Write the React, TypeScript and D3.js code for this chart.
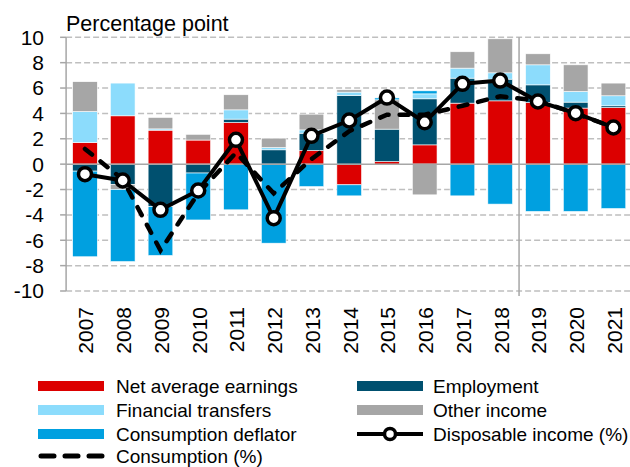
import React from "react";
import * as d3 from "d3";

const years = ["2007","2008","2009","2010","2011","2012","2013","2014","2015","2016","2017","2018","2019","2020","2021"];
const earnings = [1.70, 3.81, 2.68, 1.90, 3.28, 0, 1.07, -1.63, 0.20, 1.52, 4.81, 4.99, 4.86, 4.42, 4.46];
const employment = [-0.55, -1.60, -3.35, -0.70, 0.27, 1.13, 1.37, 5.41, 2.56, 3.63, 1.97, 1.71, 1.39, 0.47, 0.14];
const transfers = [2.45, 2.58, 0.10, 0, 0.73, 0.18, 0.26, 0.27, 0, 0.39, 0.79, 0.50, 1.58, 0.84, 0.79];
const other = [2.35, -0.40, 0.90, 0.45, 1.19, 0.74, 1.24, 0.18, 2.31, -2.42, 1.29, 2.68, 0.87, 2.10, 1.00];
const deflator = [-6.75, -5.68, -3.85, -3.70, -3.60, -6.23, -1.77, -0.87, 0.15, 0.24, -2.50, -3.15, -3.73, -3.73, -3.50];
const disposable = [-0.79, -1.29, -3.60, -2.08, 1.92, -4.26, 2.23, 3.44, 5.25, 3.30, 6.33, 6.59, 4.94, 4.02, 2.89];
const consumption = [1.2, -1.2, -6.8, -2.3, 0.9, -2.3, 0.4, 2.6, 3.9, 3.9, 4.6, 5.35, 5.0, 4.0, 2.9];
const yTicks = [10, 8, 6, 4, 2, 0, -2, -4, -6, -8, -10];

const seriesKeys = ["earnings", "employment", "transfers", "other", "deflator"];
const seriesLabels = ["Net average earnings", "Employment", "Financial transfers", "Other income", "Consumption deflator"];
const seriesColors = ["#dc0000", "#00506f", "#8cdcfc", "#a6a6a6", "#00a0e0"];
const seriesValues = [earnings, employment, transfers, other, deflator];

const FONT = "'Liberation Sans', Arial, sans-serif";

export default function App() {
  const W = 630, H = 467;
  const left = 66.1, right = 632.3, top = 37.3, bottom = 291;
  const x = d3.scaleBand<string>().domain(years).range([left, right]).paddingInner(0.346).paddingOuter(0.173);
  const y = d3.scaleLinear().domain([-10, 10]).range([bottom, top]);

  const table = years.map((yr, i) => {
    const row: any = { year: yr };
    seriesKeys.forEach((k, j) => (row[k] = seriesValues[j][i]));
    return row;
  });
  const stacked = d3.stack<any>().keys(seriesKeys).offset(d3.stackOffsetDiverging)(table);

  const cx = (yr: string) => (x(yr) as number) + x.bandwidth() / 2;
  const line = d3.line<number>().x((_, i) => cx(years[i])).y((d) => y(d));
  const sepX = left + x.step() * 12;

  const legendRows = [
    { type: "rect", label: seriesLabels[0], color: seriesColors[0], lx: 38, tx: 116, ly: 386 },
    { type: "rect", label: seriesLabels[1], color: seriesColors[1], lx: 357, tx: 433, ly: 386 },
    { type: "rect", label: seriesLabels[2], color: seriesColors[2], lx: 38, tx: 116, ly: 410 },
    { type: "rect", label: seriesLabels[3], color: seriesColors[3], lx: 357, tx: 433, ly: 410 },
    { type: "rect", label: seriesLabels[4], color: seriesColors[4], lx: 38, tx: 116, ly: 434 },
    { type: "solid", label: "Disposable income (%)", color: "#000", lx: 357, tx: 433, ly: 434 },
    { type: "dash", label: "Consumption (%)", color: "#000", lx: 38, tx: 116, ly: 456 },
  ];

  return (
    <svg width={W} height={H} style={{ position: "absolute", left: 0, top: 0, background: "#fff" }} fontFamily={FONT}>
      <text x={66} y={31} fontSize={21.5} fill="#000">Percentage point</text>
      {yTicks.filter((t) => t !== 0).map((t) => (
        <line key={"g" + t} x1={left} x2={W} y1={y(t)} y2={y(t)} stroke="#bfbfbf" strokeWidth={1.5} strokeDasharray="6,3" />
      ))}
      {stacked.map((s, j) => (
        <g key={s.key} fill={seriesColors[j]}>
          {s.map((d, i) => {
            const h = Math.abs(y(d[0]) - y(d[1]));
            if (h < 0.01) return null;
            return (
              <rect key={i} x={x(years[i])} width={x.bandwidth()} y={Math.min(y(d[0]), y(d[1]))} height={h} stroke="#fff" strokeWidth={0.6} />
            );
          })}
        </g>
      ))}
      <line x1={left} x2={W} y1={y(0)} y2={y(0)} stroke="#a6a6a6" strokeWidth={1.5} />
      <line x1={sepX} x2={sepX} y1={top} y2={bottom + 5} stroke="#a6a6a6" strokeWidth={1.5} />
      <line x1={left} x2={left} y1={top} y2={bottom} stroke="#a6a6a6" strokeWidth={1.5} />
      {yTicks.map((t) => (
        <g key={"t" + t}>
          <line x1={left - 6} x2={left} y1={y(t)} y2={y(t)} stroke="#a6a6a6" strokeWidth={1.5} />
          <text x={44} y={y(t)} dy="0.35em" textAnchor="end" fontSize={21} fill="#000">{t}</text>
        </g>
      ))}
      {years.map((yr) => (
        <text key={yr} transform={`translate(${cx(yr) + 1},${307}) rotate(-90)`} textAnchor="end" dy="0.35em" fontSize={21} fill="#000">{yr}</text>
      ))}
      <path d={line(consumption) || ""} fill="none" stroke="#000" strokeWidth={4.5} strokeDasharray="9,11" strokeLinecap="round" />
      <path d={line(disposable) || ""} fill="none" stroke="#000" strokeWidth={4} strokeLinejoin="round" />
      {disposable.map((v, i) => (
        <circle key={i} cx={cx(years[i])} cy={y(v)} r={6.5} fill="#fff" stroke="#000" strokeWidth={3.5} />
      ))}
      {legendRows.map((r) => (
        <g key={r.label}>
          {r.type === "rect" && <rect x={r.lx} y={r.ly - 5} width={66} height={10} fill={r.color} />}
          {r.type === "solid" && (
            <g>
              <line x1={r.lx} x2={r.lx + 66} y1={r.ly} y2={r.ly} stroke="#000" strokeWidth={4} />
              <circle cx={r.lx + 33} cy={r.ly} r={5.5} fill="#fff" stroke="#000" strokeWidth={3.5} />
            </g>
          )}
          {r.type === "dash" && (
            <line x1={r.lx + 3} x2={r.lx + 64} y1={r.ly} y2={r.ly} stroke="#000" strokeWidth={5} strokeDasharray="13,11" strokeLinecap="round" />
          )}
          <text x={r.tx} y={r.ly} dy="0.35em" fontSize={19} fill="#000">{r.label}</text>
        </g>
      ))}
    </svg>
  );
}
